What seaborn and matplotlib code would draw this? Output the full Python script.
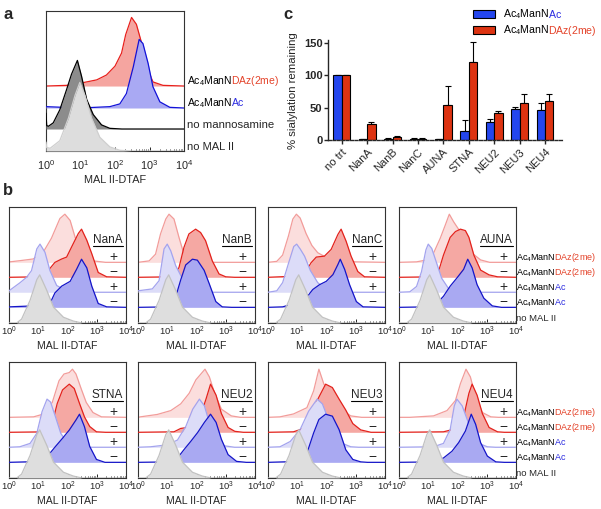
import numpy as np
import pandas as pd
import matplotlib
matplotlib.use("Agg")
import matplotlib.pyplot as plt
import seaborn as sns
from matplotlib.ticker import LogLocator, NullFormatter
from matplotlib.lines import Line2D
from matplotlib.patches import Rectangle

# ---------------- data: panel c ----------------
CATS = ["no trt", "NanA", "NanB", "NanC", "AUNA", "STNA", "NEU2", "NEU3", "NEU4"]
SERIES = ["Ac4ManNAc", "Ac4ManNDAz(2me)"]
NAC_MEAN = [100, 1, 2, 2, 1, 14, 28, 48, 46]
NAC_ERR = [0, 0.5, 1, 1, 1, 17, 5, 3.5, 12]
DAZ_MEAN = [100, 24, 5, 2, 54, 120, 41, 58, 60]
DAZ_ERR = [0, 4, 1, 1, 29, 31, 4, 13, 11]

# ---------------- data: panel a histograms (log10 MFI, fraction of mode) -------
A_DAZ = [(0, 0), (0.6, 0.01), (1.08, 0.05), (1.47, 0.09), (1.75, 0.16), (2.0, 0.29), (2.19, 0.48),
         (2.31, 0.75), (2.48, 1.0), (2.62, 0.9), (2.77, 0.63), (2.91, 0.29), (3.1, 0.06), (3.39, 0.01), (4, 0)]
A_NAC = [(0, 0.02), (1.0, 0.0), (1.85, 0.02), (2.14, 0.06), (2.33, 0.21), (2.53, 0.6), (2.7, 1.0),
         (2.81, 0.94), (2.96, 0.65), (3.1, 0.31), (3.3, 0.09), (3.59, 0.01), (4, 0)]
A_NOMAN = [(0, 0.23), (0.02, 0.05), (0.07, 0.04), (0.21, 0.09), (0.4, 0.28), (0.6, 0.58), (0.74, 0.8),
           (0.91, 1.0), (1.03, 0.77), (1.18, 0.43), (1.37, 0.21), (1.61, 0.06), (1.85, 0.01), (2.2, 0), (4, 0)]
A_NOMAL = [(0, 0.13), (0.02, 0.05), (0.12, 0.04), (0.4, 0.15), (0.65, 0.48), (0.84, 0.81), (0.98, 1.0),
           (1.13, 0.81), (1.32, 0.48), (1.56, 0.2), (1.85, 0.06), (2.14, 0.01), (2.5, 0), (4, 0)]

# ---------------- data: panel b histograms ----------------
B_NOMAL = [(0, 0), (0.26, 0), (0.43, 0.08), (0.72, 0.47), (0.95, 0.9), (1.05, 1.0), (1.29, 0.68),
           (1.52, 0.33), (1.86, 0.12), (2.2, 0.04), (2.5, 0), (4, 0)]

NANA_DAZ_P = [(0, 0), (0.03, 0.01), (0.38, 0.035), (0.83, 0.07), (1.17, 0.21), (1.45, 0.5), (1.74, 0.91),
              (1.91, 1.0), (2.09, 0.87), (2.26, 0.52), (2.54, 0.17), (2.88, 0.03), (3.3, 0), (4, 0)]
NANA_DAZ_M = [(0, 0), (1.0, 0.01), (1.34, 0.14), (1.57, 0.31), (1.8, 0.38), (1.97, 0.42), (2.14, 0.63),
              (2.37, 0.91), (2.48, 1.0), (2.66, 0.77), (2.83, 0.49), (3.05, 0.1), (3.34, 0.01), (4, 0)]
NANA_NAC_P = [(0, 0.03), (0.38, 0.2), (0.6, 0.31), (0.77, 0.45), (0.95, 0.9), (1.06, 1.0), (1.23, 0.83),
              (1.4, 0.45), (1.63, 0.14), (1.97, 0.03), (2.4, 0), (4, 0)]
NANA_NAC_M = [(0, 0.01), (0.83, 0.03), (1.4, 0.08), (1.57, 0.3), (1.8, 0.44), (2.09, 0.54), (2.31, 0.79),
              (2.48, 1.0), (2.66, 0.82), (2.83, 0.44), (3.05, 0.08), (3.34, 0.01), (4, 0)]

NANB_DAZ_P = [(0, 0), (0.38, 0.03), (0.6, 0.17), (0.77, 0.59), (0.95, 0.9), (1.06, 1.0), (1.23, 0.9),
              (1.4, 0.52), (1.57, 0.17), (1.8, 0.03), (2.2, 0), (4, 0)]
NANB_DAZ_M = [(0, 0), (1.17, 0.01), (1.4, 0.2), (1.57, 0.62), (1.74, 0.9), (1.97, 1.0), (2.14, 0.93),
              (2.31, 0.76), (2.54, 0.34), (2.77, 0.07), (3.0, 0.01), (3.3, 0), (4, 0)]
NANB_NAC_P = [(0, 0.03), (0.49, 0.07), (0.72, 0.24), (0.89, 0.9), (1.0, 1.0), (1.12, 0.86), (1.29, 0.55),
              (1.52, 0.28), (1.74, 0.1), (2.09, 0.02), (2.4, 0), (4, 0)]
NANB_NAC_M = [(0, 0), (1.06, 0.01), (1.29, 0.22), (1.46, 0.57), (1.63, 0.88), (1.86, 1.0), (2.03, 0.98),
              (2.26, 0.77), (2.43, 0.5), (2.66, 0.12), (2.88, 0.01), (3.2, 0), (4, 0)]

NANC_DAZ_P = [(0, 0), (0.3, 0.02), (0.5, 0.15), (0.7, 0.55), (0.85, 0.9), (0.97, 1.0), (1.1, 0.92),
              (1.3, 0.6), (1.5, 0.35), (1.7, 0.2), (2.0, 0.1), (2.5, 0.04), (3.0, 0.01), (4, 0)]
NANC_DAZ_M = [(0, 0), (0.8, 0.02), (1.08, 0.05), (1.25, 0.08), (1.47, 0.3), (1.65, 0.42), (1.93, 0.44),
              (2.16, 0.58), (2.39, 0.89), (2.5, 1.0), (2.67, 0.75), (2.84, 0.44), (3.07, 0.12), (3.3, 0.01), (4, 0)]
NANC_NAC_P = [(0, 0), (0.3, 0.03), (0.5, 0.2), (0.7, 0.6), (0.88, 0.95), (0.98, 1.0), (1.1, 0.9),
              (1.25, 0.75), (1.45, 0.45), (1.7, 0.2), (2.0, 0.05), (2.3, 0), (4, 0)]
NANC_NAC_M = [(0, 0), (0.5, 0.01), (0.8, 0.06), (1.08, 0.15), (1.3, 0.19), (1.53, 0.37), (1.76, 0.47),
              (1.99, 0.54), (2.22, 0.68), (2.39, 0.89), (2.47, 1.0), (2.62, 0.79), (2.79, 0.47), (3.02, 0.12),
              (3.25, 0.01), (4, 0)]

AUNA_DAZ_P = [(0, 0), (0.6, 0.01), (0.95, 0.05), (1.18, 0.19), (1.41, 0.5), (1.58, 0.77), (1.72, 1.0),
              (1.87, 0.84), (2.1, 0.63), (2.44, 0.22), (2.79, 0.05), (3.1, 0), (4, 0)]
AUNA_DAZ_M = [(0, 0), (1.18, 0.01), (1.35, 0.12), (1.52, 0.46), (1.75, 0.83), (1.93, 0.95), (2.1, 1.0),
              (2.27, 0.97), (2.39, 0.83), (2.56, 0.46), (2.79, 0.15), (3.08, 0.05), (3.37, 0.01), (4, 0)]
AUNA_NAC_P = [(0, 0), (0.37, 0.01), (0.6, 0.12), (0.77, 0.43), (0.92, 0.88), (1.0, 1.0), (1.12, 0.91),
              (1.29, 0.6), (1.46, 0.29), (1.69, 0.08), (1.98, 0.01), (2.3, 0), (4, 0)]
AUNA_NAC_M = [(0, 0), (0.95, 0.01), (1.29, 0.08), (1.52, 0.23), (1.75, 0.44), (1.98, 0.61), (2.21, 0.79),
              (2.35, 1.0), (2.5, 0.82), (2.67, 0.47), (2.9, 0.19), (3.19, 0.03), (3.5, 0), (4, 0)]

STNA_DAZ_P = [(0, 0), (0.84, 0.01), (1.19, 0.07), (1.48, 0.31), (1.71, 0.76), (1.88, 0.9), (2.06, 0.93),
              (2.17, 1.0), (2.29, 0.9), (2.47, 0.59), (2.64, 0.31), (2.87, 0.1), (3.16, 0.01), (4, 0)]
STNA_DAZ_M = [(0, 0), (1.3, 0.01), (1.48, 0.19), (1.65, 0.6), (1.83, 0.88), (2.06, 1.0), (2.23, 0.91),
              (2.41, 0.6), (2.58, 0.32), (2.76, 0.12), (2.99, 0.01), (3.3, 0), (4, 0)]
STNA_NAC_P = [(0, 0), (0.37, 0.01), (0.72, 0.08), (0.95, 0.29), (1.13, 0.74), (1.3, 1.0), (1.42, 0.94),
              (1.59, 0.63), (1.77, 0.29), (2.0, 0.08), (2.35, 0.01), (2.6, 0), (4, 0)]
STNA_NAC_M = [(0, 0), (1.19, 0.02), (1.36, 0.16), (1.59, 0.33), (1.83, 0.5), (2.06, 0.67), (2.29, 0.88),
              (2.41, 1.0), (2.58, 0.74), (2.76, 0.33), (2.99, 0.06), (3.28, 0), (4, 0)]

NEU2_DAZ_P = [(0, 0), (0.08, 0.01), (0.66, 0.06), (1.12, 0.14), (1.46, 0.28), (1.75, 0.5), (1.98, 0.78),
              (2.15, 0.9), (2.29, 1.0), (2.44, 0.84), (2.62, 0.5), (2.85, 0.17), (3.19, 0.03), (3.5, 0), (4, 0)]
NEU2_DAZ_M = [(0, 0), (1.23, 0.01), (1.46, 0.08), (1.69, 0.1), (1.93, 0.15), (2.16, 0.39), (2.33, 0.7),
              (2.48, 1.0), (2.67, 0.77), (2.85, 0.39), (3.08, 0.1), (3.31, 0.02), (3.6, 0), (4, 0)]
NEU2_NAC_P = [(0, 0), (0.43, 0.01), (1.0, 0.05), (1.35, 0.15), (1.64, 0.44), (1.87, 0.79), (2.1, 1.0),
              (2.27, 0.86), (2.44, 0.51), (2.67, 0.15), (2.96, 0.03), (3.3, 0), (4, 0)]
NEU2_NAC_M = [(0, 0), (1.12, 0.01), (1.35, 0.09), (1.58, 0.27), (1.81, 0.44), (2.04, 0.62), (2.27, 0.83),
              (2.48, 1.0), (2.67, 0.83), (2.85, 0.48), (3.08, 0.16), (3.37, 0.02), (3.7, 0), (4, 0)]

NEU3_DAZ_P = [(0, 0), (0.41, 0.01), (0.87, 0.07), (1.33, 0.2), (1.56, 0.55), (1.74, 1.0), (1.91, 0.69),
              (2.14, 0.48), (2.49, 0.17), (2.83, 0.03), (3.2, 0), (4, 0)]
NEU3_DAZ_M = [(0, 0), (0.87, 0.01), (1.22, 0.08), (1.45, 0.25), (1.68, 0.66), (1.97, 1.0), (2.2, 0.93),
              (2.43, 0.69), (2.66, 0.46), (2.9, 0.18), (3.17, 0.05), (3.52, 0), (4, 0)]
NEU3_NAC_P = [(0, 0), (0.41, 0.01), (0.76, 0.12), (1.1, 0.37), (1.39, 0.75), (1.68, 1.0), (1.86, 0.9),
              (2.02, 0.65), (2.25, 0.3), (2.54, 0.08), (2.83, 0.01), (3.1, 0), (4, 0)]
NEU3_NAC_M = [(0, 0), (1.1, 0.02), (1.33, 0.19), (1.56, 0.61), (1.74, 0.89), (1.97, 1.0), (2.2, 0.96),
              (2.43, 0.68), (2.66, 0.26), (2.9, 0.06), (3.17, 0.01), (3.4, 0), (4, 0)]

NEU4_DAZ_P = [(0, 0), (0.37, 0.0), (1.18, 0.03), (1.64, 0.14), (1.93, 0.35), (2.1, 0.7), (2.29, 1.0),
              (2.44, 0.84), (2.62, 0.42), (2.85, 0.1), (3.14, 0.01), (3.4, 0), (4, 0)]
NEU4_DAZ_M = [(0, 0), (1.52, 0.01), (1.98, 0.08), (2.21, 0.32), (2.39, 0.81), (2.5, 1.0), (2.67, 0.77),
              (2.85, 0.39), (3.08, 0.1), (3.37, 0.01), (3.6, 0), (4, 0)]
NEU4_NAC_P = [(0, 0), (1.18, 0.01), (1.52, 0.08), (1.75, 0.37), (1.89, 0.86), (1.98, 1.0), (2.16, 0.86),
              (2.33, 0.58), (2.5, 0.3), (2.73, 0.08), (3.02, 0.01), (3.3, 0), (4, 0)]
NEU4_NAC_M = [(0, 0), (1.18, 0.01), (1.52, 0.09), (1.81, 0.23), (2.04, 0.41), (2.27, 0.65), (2.47, 1.0),
              (2.62, 0.79), (2.79, 0.41), (3.02, 0.13), (3.31, 0.01), (3.6, 0), (4, 0)]

B_NAMES = ["NanA", "NanB", "NanC", "AUNA", "STNA", "NEU2", "NEU3", "NEU4"]
B_CURVES = [
    [NANA_DAZ_P, NANA_DAZ_M, NANA_NAC_P, NANA_NAC_M],
    [NANB_DAZ_P, NANB_DAZ_M, NANB_NAC_P, NANB_NAC_M],
    [NANC_DAZ_P, NANC_DAZ_M, NANC_NAC_P, NANC_NAC_M],
    [AUNA_DAZ_P, AUNA_DAZ_M, AUNA_NAC_P, AUNA_NAC_M],
    [STNA_DAZ_P, STNA_DAZ_M, STNA_NAC_P, STNA_NAC_M],
    [NEU2_DAZ_P, NEU2_DAZ_M, NEU2_NAC_P, NEU2_NAC_M],
    [NEU3_DAZ_P, NEU3_DAZ_M, NEU3_NAC_P, NEU3_NAC_M],
    [NEU4_DAZ_P, NEU4_DAZ_M, NEU4_NAC_P, NEU4_NAC_M],
]
SIGNS = ["+", "\u2212", "+", "\u2212"]

# ---------------- style ----------------
sns.set_style("ticks")
plt.rcParams["font.family"] = ["Liberation Sans", "DejaVu Sans"]
plt.rcParams["mathtext.fontset"] = "custom"
plt.rcParams["mathtext.rm"] = "Liberation Sans"
plt.rcParams["mathtext.it"] = "Liberation Sans:italic"
plt.rcParams["mathtext.bf"] = "Liberation Sans:bold"
plt.rcParams["mathtext.default"] = "regular"

RED_TXT = "#E4432A"
BLUE_TXT = "#2B2BE0"

W, H = 601, 509
fig = plt.figure(figsize=(W / 100, H / 100), dpi=100)
renderer = fig.canvas.get_renderer()


def fax(l, t, w, h):
    return fig.add_axes([l / W, 1 - (t + h) / H, w / W, h / H])


def _width(s, size):
    t = fig.text(0, 0, s, fontsize=size)
    w = t.get_window_extent(renderer=renderer).width
    t.remove()
    return w


def sugar_label(xpx, ypx, suffix, col, size):
    """'Ac4ManN' in black followed by a coloured suffix, baseline at pixel ypx."""
    prefix = "Ac$_4$ManN"
    w_full = _width(prefix + "$" + suffix + "$", size)
    w_suf = _width("$" + suffix + "$", size)
    y = 1 - ypx / H
    fig.text(xpx / W, y, prefix, fontsize=size, color="black", ha="left", va="baseline")
    fig.text((xpx + w_full - w_suf) / W, y, "$" + suffix + "$", fontsize=size, color=col,
             ha="left", va="baseline")


def label_daz(xpx, ypx, size):
    sugar_label(xpx, ypx, "DAz(2me)", RED_TXT, size)


def label_nac(xpx, ypx, size):
    sugar_label(xpx, ypx, "Ac", BLUE_TXT, size)


def log_axis(ax, lsize, pad):
    ax.set_xscale("log")
    ax.set_xlim(1, 1e4)
    ax.set_ylim(0, 1)
    ax.set_xticks([1, 10, 100, 1000, 10000])
    ax.set_xticklabels(["$10^{%d}$" % i for i in range(5)])
    ax.xaxis.set_minor_locator(LogLocator(base=10, subs=range(2, 10), numticks=20))
    ax.xaxis.set_minor_formatter(NullFormatter())
    ax.set_yticks([])
    ax.tick_params(axis="x", which="major", direction="in", length=3, width=0.7, labelsize=lsize, pad=pad)
    ax.tick_params(axis="x", which="minor", direction="in", length=1.6, width=0.6)
    for s in ax.spines.values():
        s.set_visible(True)
        s.set_linewidth(0.8)
        s.set_color("#333333")


def draw_hist(ax, pts, base, height, fill, line, z, lw=0.9):
    arr = np.array(pts, dtype=float)
    x = 10 ** arr[:, 0]
    y = base + height * arr[:, 1]
    ax.fill_between(x, base, y, color=fill, lw=0, zorder=z)
    if line is not None:
        ax.plot(x, y, color=line, lw=lw, zorder=z + 0.5)


# ---------------- panel a ----------------
axa = fax(46, 11, 138, 140)
log_axis(axa, 7.8, 5)
A_OFFS = [0.464, 0.307, 0.157, 0.0]
A_STY = [("#F5A5A0", "#E8201C"), ("#A9A9F3", "#1212D8"), ("#8C8C8C", "#000000"), ("#DDDDDD", "#CFCFCF")]
for i, pts in enumerate([A_DAZ, A_NAC, A_NOMAN, A_NOMAL]):
    draw_hist(axa, pts, A_OFFS[i], 0.49, A_STY[i][0], A_STY[i][1], 2 + i)
axa.set_xlabel("MAL II-DTAF", fontsize=7.8, labelpad=2)

label_daz(187, 84.5, 7.5)
label_nac(187, 106.5, 7.5)
fig.text(187 / W, 1 - 128 / H, "no mannosamine", fontsize=8.2, va="baseline")
fig.text(187 / W, 1 - 149.5 / H, "no MAL II", fontsize=8.0, va="baseline")

# ---------------- panel b ----------------
B_LEFTS = [9, 138, 268, 399]
B_TOPS = [207, 362]
B_OFFS = [0.523, 0.394, 0.265, 0.135, 0.0]
B_STY = [("#FBDEDD", "#F29C9A"), ("#F5A8A3", "#E3221C"), ("#DCDCF8", "#A3A3EE"), ("#A9A9F2", "#1515C8"),
         ("#DEDEDE", "#C2C2C2")]
for k, name in enumerate(B_NAMES):
    r, c = divmod(k, 4)
    ax = fax(B_LEFTS[c], B_TOPS[r], 117, 116)
    log_axis(ax, 6.8, 1.5)
    curves = B_CURVES[k] + [B_NOMAL]
    for i, pts in enumerate(curves):
        draw_hist(ax, pts, B_OFFS[i], 0.415, B_STY[i][0], B_STY[i][1], 2 + i)
    ax.set_xlabel("MAL II-DTAF", fontsize=7.6, labelpad=2)
    t = ax.text(0.975, 0.69, name, transform=ax.transAxes, ha="right", va="baseline", fontsize=8.5, zorder=20)
    bb = t.get_window_extent(renderer=renderer).transformed(ax.transAxes.inverted())
    ax.add_line(Line2D([bb.x0, bb.x1], [0.665, 0.665], transform=ax.transAxes, color="black", lw=0.8, zorder=20))
    for i in range(4):
        ax.text(0.889, B_OFFS[i] + 0.047, SIGNS[i], transform=ax.transAxes, ha="center", va="center",
                fontsize=10, zorder=20)

for r, top in enumerate(B_TOPS):
    bot = top + 116
    basepx = [bot - off * 116 for off in B_OFFS]
    label_daz(516, basepx[0] - 2, 6.5)
    label_daz(516, basepx[1] - 2, 6.5)
    label_nac(516, basepx[2] - 2, 6.5)
    label_nac(516, basepx[3] - 2, 6.5)
    fig.text(516 / W, 1 - (basepx[4] - 2) / H, "no MAL II", fontsize=6.8, va="baseline")

# ---------------- panel c ----------------
axc = fax(328, 39.8, 235, 100.2)
df = pd.DataFrame({
    "treatment": CATS * 2,
    "sugar": [SERIES[0]] * len(CATS) + [SERIES[1]] * len(CATS),
    "value": NAC_MEAN + DAZ_MEAN,
})
BAR_BLUE = "#2446EE"
BAR_RED = "#DD3311"
sns.barplot(data=df, x="treatment", y="value", hue="sugar", order=CATS, hue_order=SERIES,
            palette=[BAR_BLUE, BAR_RED], width=0.66, gap=0, edgecolor="black", linewidth=0.8,
            errorbar=None, legend=False, ax=axc, saturation=1)
for cont, errs in zip(axc.containers, [NAC_ERR, DAZ_ERR]):
    xs = [b.get_x() + b.get_width() / 2 for b in cont]
    ys = [b.get_height() for b in cont]
    axc.errorbar(xs, ys, yerr=[np.zeros(len(errs)), errs], fmt="none", ecolor="black",
                 elinewidth=0.8, capsize=2.5, capthick=0.8, zorder=0)
axc.set_xlim(-0.54, 8.71)
axc.set_ylim(0, 155)
axc.set_yticks([0, 50, 100, 150])
axc.set_xlabel("")
axc.set_ylabel("% sialylation remaining", fontsize=8.2)
axc.yaxis.set_label_coords(-0.128, 0.49)
sns.despine(ax=axc)
axc.spines["left"].set_linewidth(1.0)
axc.spines["bottom"].set_linewidth(1.0)
axc.spines["bottom"].set_linestyle((0, (2, 1.2)))
axc.tick_params(axis="y", direction="out", length=3, width=1, labelsize=8, pad=1)
axc.tick_params(axis="x", direction="out", length=3, width=1, labelsize=8, pad=2)
for lbl in axc.get_yticklabels():
    lbl.set_fontweight("bold")
for lbl in axc.get_xticklabels():
    lbl.set_rotation(45)
    lbl.set_ha("right")
    lbl.set_va("top")
    lbl.set_rotation_mode("anchor")

# legend for panel c
for col, ypx, fn in [(BAR_BLUE, 10.5, label_nac), (BAR_RED, 26.5, label_daz)]:
    fig.patches.append(Rectangle((473 / W, 1 - (ypx + 7) / H), 22 / W, 7 / H, transform=fig.transFigure,
                                 facecolor=col, edgecolor="black", lw=0.8))
    fn(503, ypx + 7, 7.6)

# panel letters
fig.text(4 / W, 1 - 19 / H, "a", fontsize=12, fontweight="bold", va="baseline")
fig.text(3 / W, 1 - 195 / H, "b", fontsize=12, fontweight="bold", va="baseline")
fig.text(283 / W, 1 - 19 / H, "c", fontsize=12, fontweight="bold", va="baseline")

fig.savefig("out.png", dpi=100)
